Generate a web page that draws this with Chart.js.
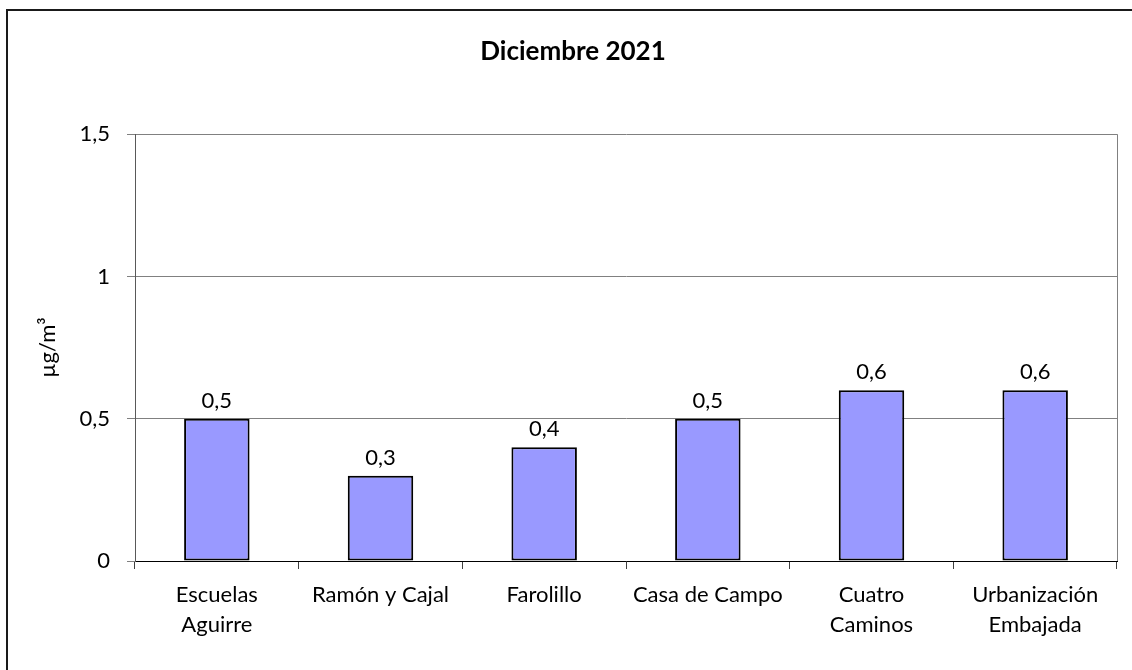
<!DOCTYPE html>
<html>
<head>
<meta charset="utf-8">
<script src="https://cdn.jsdelivr.net/npm/chart.js@4"></script>
<style>
  body { margin: 0; background: #fff; }
</style>
</head>
<body>
<canvas id="myChart" width="1132" height="670"></canvas>
<script>
// Datos del grafico
const estaciones = [['Escuelas', 'Aguirre'], 'Ramón y Cajal', 'Farolillo', 'Casa de Campo', ['Cuatro', 'Caminos'], ['Urbanización', 'Embajada']];
const valores = [0.5, 0.3, 0.4, 0.5, 0.6, 0.6];
const ticksY = [0, 0.5, 1, 1.5];

const fuente = 'Lato, "Noto Sans", sans-serif';
const coma = v => String(v).replace('.', ',');

// marco exterior + borde derecho del area de trazado
const marco = {
  id: 'marco',
  beforeDraw(chart) {
    const c = chart.ctx;
    c.save();
    c.strokeStyle = '#1a1a1a';
    c.lineWidth = 2;
    c.beginPath();
    c.moveTo(7, 670);
    c.lineTo(7, 10);
    c.lineTo(1132, 10);
    c.stroke();
    c.restore();
  },
  beforeDatasetsDraw(chart) {
    const a = chart.chartArea, c = chart.ctx;
    c.save();
    c.strokeStyle = '#808080';
    c.lineWidth = 1;
    c.beginPath();
    c.moveTo(a.right + 0.5, a.top);
    c.lineTo(a.right + 0.5, a.bottom);
    c.stroke();
    c.restore();
  }
};

// etiquetas de valor encima de las barras
const etiquetas = {
  id: 'etiquetas',
  afterDatasetsDraw(chart) {
    const c = chart.ctx;
    c.save();
    c.font = '22px ' + fuente;
    c.fillStyle = '#000';
    c.textAlign = 'center';
    c.textBaseline = 'bottom';
    chart.getDatasetMeta(0).data.forEach((bar, i) => {
      c.fillText(coma(valores[i]), bar.x, bar.y - 7);
    });
    c.restore();
  }
};

const ctx = document.getElementById('myChart').getContext('2d');
new Chart(ctx, {
  type: 'bar',
  data: {
    labels: estaciones,
    datasets: [{
      data: valores,
      backgroundColor: '#9999FF',
      borderColor: '#000',
      borderWidth: 2,
      borderSkipped: false,
      categoryPercentage: 1,
      barPercentage: 0.4
    }]
  },
  options: {
    responsive: false,
    animation: false,
    layout: { padding: { right: 15, left: 29, bottom: 0 } },
    plugins: {
      legend: { display: false },
      tooltip: { enabled: false },
      title: {
        display: true,
        text: 'Diciembre 2021',
        color: '#000',
        font: { family: fuente, size: 26, weight: 'bold' },
        padding: { top: 36, bottom: 67 }
      }
    },
    scales: {
      x: {
        afterFit: s => { s.height = 109; },
        grid: { drawOnChartArea: false, tickLength: 8, color: '#404040' },
        border: { color: '#000', width: 1 },
        ticks: {
          color: '#000',
          padding: 11,
          maxRotation: 0,
          autoSkip: false,
          font: { family: fuente, size: 22, lineHeight: 1.36 }
        }
      },
      y: {
        min: 0,
        max: 1.5,
        afterFit: s => { s.width = 106; },
        afterBuildTicks: s => { s.ticks = ticksY.map(v => ({ value: v })); },
        grid: { color: '#808080', tickLength: 8 },
        border: { color: '#595959', width: 1 },
        ticks: {
          color: '#000',
          padding: 17,
          font: { family: fuente, size: 22 },
          callback: v => coma(v)
        },
        title: {
          display: true,
          text: 'µg/m³',
          color: '#000',
          font: { family: fuente, size: 22 },
          padding: { top: 6, bottom: 0 }
        }
      }
    }
  },
  plugins: [marco, etiquetas]
});
</script>
</body>
</html>
